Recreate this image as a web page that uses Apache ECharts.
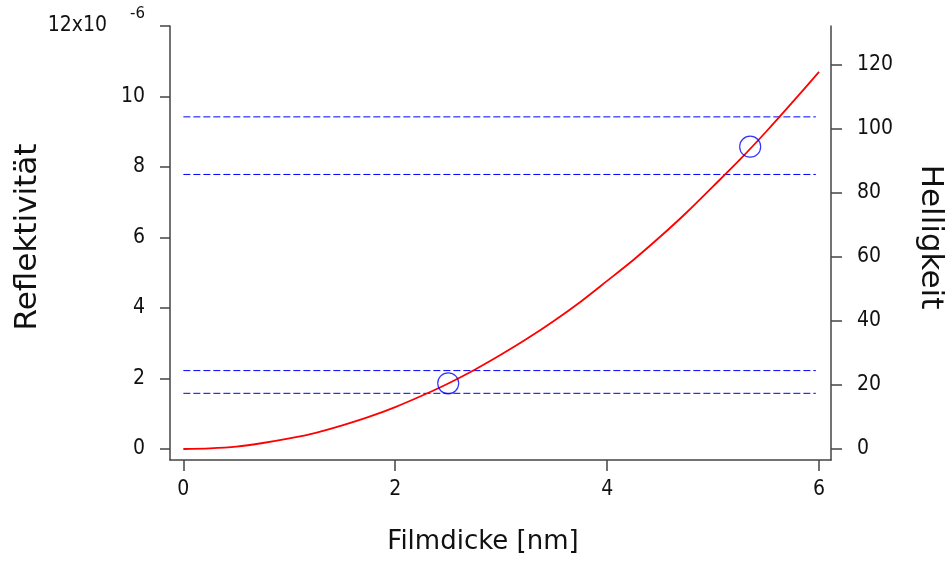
<!DOCTYPE html>
<html>
<head>
<meta charset="utf-8">
<script src="https://cdn.jsdelivr.net/npm/echarts@6/dist/echarts.min.js"></script>
<style>
html,body{margin:0;padding:0;background:#fff;}
#chart{width:949px;height:563px;}
</style>
</head>
<body>
<div id="chart"></div>
<script>
// Film thickness [nm]
const filmdicke = [0,0.25,0.5,0.75,1,1.25,1.5,1.75,2,2.25,2.5,2.75,3,3.25,3.5,3.75,4,4.25,4.5,4.75,5,5.25,5.5,5.75,6];
// Reflectivity in units of 1e-6
const reflektivitaet = [0,0.02,0.07,0.17,0.30,0.46,0.67,0.91,1.19,1.51,1.86,2.25,2.68,3.14,3.64,4.18,4.77,5.37,6.02,6.71,7.45,8.20,9.00,9.84,10.70];
// Brightness threshold levels (Helligkeit)
const helligkeitStufen = [103.8, 85.8, 24.5, 17.4];
const stufenX = [0, 5.97];
// Marked points: [Filmdicke, Reflektivität (1e-6)]
const markierungX = [2.50, 5.35];
const markierungY = [1.864, 8.576];
// Tick labels
const xTicks = [0,2,4,6];
const yLeftTicks = [0,2,4,6,8,10,12];
const yRightTicks = [0,20,40,60,80,100,120];

const FONT = 'DejaVu Sans';
const TICKFONT = '"Liberation Sans Narrow", "DejaVu Sans Condensed", sans-serif';
const TICKSIZE = 21;
const chart = echarts.init(document.getElementById('chart'), null, {renderer:'canvas'});

const axisLineStyle = {color:'#444', width:1.5};
const series = [];
series.push({
  type:'line', xAxisIndex:0, yAxisIndex:0,
  data: filmdicke.map((x,i)=>[x, reflektivitaet[i]]),
  showSymbol:false, symbol:'none', smooth:0.3,
  lineStyle:{color:'#ff0000', width:1.8}, z:5, silent:true
});
helligkeitStufen.forEach(v=>{
  series.push({
    type:'line', xAxisIndex:0, yAxisIndex:1,
    data: stufenX.map(x=>[x, v]),
    showSymbol:false, symbol:'none',
    lineStyle:{color:'#0000ff', width:1, type:[7,3]}, z:3, silent:true
  });
});
series.push({
  type:'scatter', xAxisIndex:0, yAxisIndex:0,
  data: markierungX.map((x,i)=>[x, markierungY[i]]),
  symbol:'circle', symbolSize:21,
  itemStyle:{color:'rgba(0,0,0,0)', borderColor:'#0000ff', borderWidth:1.2}, z:6, silent:true
});

chart.setOption({
  animation:false,
  backgroundColor:'#fff',
  textStyle:{fontFamily:FONT},
  grid:{left:170, right:118, top:26, bottom:103, containLabel:false, outerBoundsMode:'none'},
  xAxis:{
    type:'value', min:-0.126, max:6.113,
    name:'Filmdicke [nm]', nameLocation:'middle', nameGap:69, nameMoveOverlap:false,
    nameTextStyle:{fontSize:26, color:'#111', fontFamily:FONT, padding:[0,35,0,0]},
    axisLine:{show:true, onZero:false, lineStyle:axisLineStyle},
    axisTick:{show:true, inside:false, length:11, lineStyle:axisLineStyle, customValues:xTicks},
    axisLabel:{fontSize:TICKSIZE, color:'#111', margin:19, fontFamily:TICKFONT, customValues:xTicks},
    splitLine:{show:false}
  },
  yAxis:[{
    type:'value', min:-0.312, max:12, position:'left',
    name:'Reflektivität', nameLocation:'middle', nameGap:127, nameMoveOverlap:false,
    nameTextStyle:{fontSize:31, color:'#111', fontFamily:FONT, padding:[0,0,0,12]},
    axisLine:{show:true, onZero:false, lineStyle:axisLineStyle},
    axisTick:{show:true, inside:false, length:10, lineStyle:axisLineStyle, customValues:yLeftTicks},
    axisLabel:{fontSize:TICKSIZE, color:'#111', margin:25, fontFamily:TICKFONT, customValues:yLeftTicks,
      formatter:function(v){ return v===12 ? '{a|12x10}{s|-6}' : String(v); },
      rich:{a:{fontSize:TICKSIZE, color:'#111', fontFamily:TICKFONT}, s:{fontSize:15, color:'#111', fontFamily:FONT, padding:[0,0,24,23]}}
    },
    splitLine:{show:false}
  },{
    type:'value', min:-3.44, max:132.2, position:'right',
    name:'Helligkeit', nameLocation:'middle', nameGap:84, nameRotate:-90, nameMoveOverlap:false,
    nameTextStyle:{fontSize:31, color:'#111', fontFamily:FONT, padding:[0,12,0,0]},
    axisLine:{show:true, onZero:false, lineStyle:axisLineStyle},
    axisTick:{show:true, inside:false, length:11, lineStyle:axisLineStyle, customValues:yRightTicks},
    axisLabel:{fontSize:TICKSIZE, color:'#111', margin:26, fontFamily:TICKFONT, customValues:yRightTicks},
    splitLine:{show:false}
  }],
  series: series
});
</script>
</body>
</html>
